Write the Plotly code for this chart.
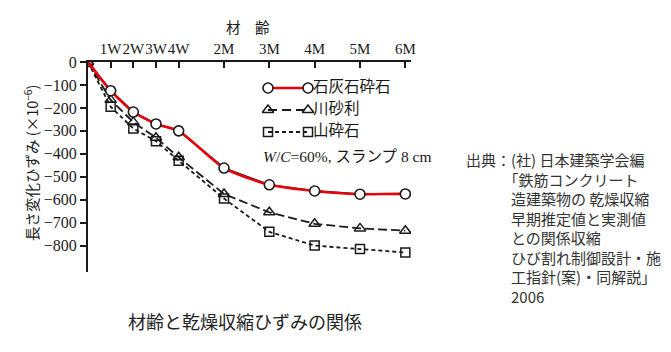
import plotly.graph_objects as go

# Ages: first month in weeks, then months (axis is stretched for the first month)
ages = ["0", "1W", "2W", "3W", "4W", "2M", "3M", "4M", "5M", "6M"]
tick_labels = ["1W", "2W", "3W", "4W", "2M", "3M", "4M", "5M", "6M"]

# Drying shrinkage strain (x10^-6) by coarse aggregate type
limestone = [0, -125, -218, -270, -300, -462, -535, -562, -576, -575]
river_gravel = [0, -165, -262, -330, -415, -575, -655, -705, -725, -735]
crushed_stone = [0, -195, -290, -345, -430, -595, -740, -800, -815, -830]

series_names = ["石灰石砕石", "川砂利", "山砕石"]
y_ticks = [0, -100, -200, -300, -400, -500, -600, -700, -800]


def axis_pos(label):
    """Weeks take one unit each; each month after the first takes two."""
    if label == "0":
        return 0.0
    n = int(label[:-1])
    if label.endswith("W"):
        return float(n)
    return 4.0 + 2.0 * (n - 1)


xs = [axis_pos(a) for a in ages]
serif = "Liberation Serif, Noto Sans CJK JP, serif"
jp = "Noto Sans CJK JP, sans-serif"
ink = "#1a1a1a"

L, T, R, B = 88, 62, 260, 80
W, H = 671, 352


def px(x):
    return (x - L) / (W - L - R)


def py(y):
    return (H - B - y) / (H - T - B)


fig = go.Figure()

fig.add_trace(go.Scatter(
    x=xs, y=crushed_stone, mode="lines+markers", name=series_names[2],
    line=dict(color=ink, width=1.8, dash="4px,3px"),
    marker=dict(symbol="square-open", size=9, color=ink, line=dict(width=1.5)),
))
fig.add_trace(go.Scatter(
    x=xs, y=river_gravel, mode="lines+markers", name=series_names[1],
    line=dict(color=ink, width=1.8, dash="9px,4px"),
    marker=dict(symbol="triangle-up-open", size=10, color=ink, line=dict(width=1.5)),
))
fig.add_trace(go.Scatter(
    x=xs, y=limestone, mode="lines", name=series_names[0],
    line=dict(color=ink, width=1.8),
))
# smoothed red trend over the limestone series
fig.add_trace(go.Scatter(
    x=xs + [xs[-1] + 0.4], y=limestone + [limestone[-1] - 6], mode="lines",
    line=dict(color="#e8000b", width=2.6, shape="spline", smoothing=0.6),
    showlegend=False, hoverinfo="skip",
))
fig.add_trace(go.Scatter(
    x=xs[1:], y=limestone[1:], mode="markers",
    marker=dict(symbol="circle", size=10, color="white", line=dict(color=ink, width=1.6)),
    showlegend=False,
))

# Hand-drawn style key, on an overlay axis measured in page pixels
kx0, kx1 = 268, 308
rows = [88, 110, 132]
key_styles = [
    dict(line=dict(color="#e8000b", width=2.4),
         marker=dict(symbol="circle", size=10, color="white", line=dict(color=ink, width=1.6))),
    dict(line=dict(color=ink, width=1.8, dash="9px,5px"),
         marker=dict(symbol="triangle-up-open", size=10, color=ink, line=dict(width=1.5))),
    dict(line=dict(color=ink, width=1.8, dash="4px,3px"),
         marker=dict(symbol="square-open", size=9, color=ink, line=dict(width=1.5))),
]
for yy, style, name in zip(rows, key_styles, series_names):
    fig.add_trace(go.Scatter(
        x=[kx0, kx1], y=[yy, yy], mode="lines+markers", xaxis="x2", yaxis="y2",
        showlegend=False, hoverinfo="skip", cliponaxis=False, **style,
    ))
    fig.add_trace(go.Scatter(
        x=[kx1 + 5], y=[yy], mode="text", xaxis="x2", yaxis="y2",
        text=[name], textposition="middle right",
        textfont=dict(family=jp, size=15.5, color=ink),
        showlegend=False, hoverinfo="skip", cliponaxis=False,
    ))
fig.add_annotation(x=px(261), y=py(156), xref="paper", yref="paper",
                   text="<i>W</i>/<i>C</i>=60%, スランプ 8 cm",
                   showarrow=False, xanchor="left", yanchor="middle",
                   font=dict(family=serif, size=15.5, color=ink))

# Axis titles
fig.add_annotation(x=px(248), y=py(14), xref="paper", yref="paper", text="材　齢",
                   showarrow=False, font=dict(family=jp, size=14.5, color=ink))
fig.add_annotation(x=px(18), y=py(163), xref="paper", yref="paper",
                   text="長さ変化ひずみ (×10<sup>−6</sup>)", textangle=-90,
                   showarrow=False, font=dict(family=jp, size=14.5, color=ink))

# Source note on the right; continuation lines indented past "出典："
source_head = "出典：(社) 日本建築学会編"
source_lines = [
    "「鉄筋コンクリート",
    "造建築物の 乾燥収縮",
    "早期推定値と実測値",
    "との関係収縮",
    "ひび割れ制御設計・施",
    "工指針(案)・同解説」",
    "2006",
]
indent = "\u3000\u3000\u3000"
note = "<br>".join([source_head] + [indent + s for s in source_lines])
fig.add_annotation(x=px(464), y=py(147), xref="paper", yref="paper",
                   text=note, align="left",
                   showarrow=False, xanchor="left", yanchor="top",
                   font=dict(family=jp, size=15, color="#333333"))

# Caption
fig.add_annotation(x=px(245), y=py(336), xref="paper", yref="paper",
                   text="材齢と乾燥収縮ひずみの関係",
                   showarrow=False, font=dict(family=jp, size=18, color="#222222"))

fig.update_layout(
    width=W, height=H,
    margin=dict(l=L, r=R, t=T, b=B, pad=0),
    paper_bgcolor="white", plot_bgcolor="white",
    showlegend=False,
    xaxis=dict(
        side="top", range=[0, 14.25], tickvals=[axis_pos(t) for t in tick_labels],
        ticktext=tick_labels, tickangle=0, ticks="inside", ticklen=6, tickwidth=1.8,
        tickcolor=ink, showline=True, linecolor=ink, linewidth=2.2, showgrid=False,
        zeroline=False, tickfont=dict(family=serif, size=15, color=ink),
    ),
    yaxis=dict(
        range=[-915, 0], tickvals=y_ticks,
        ticktext=[str(v).replace("-", "−") for v in y_ticks],
        ticks="outside", ticklen=6, tickwidth=1.8, tickcolor=ink,
        showline=True, linecolor=ink, linewidth=2.2, showgrid=False, zeroline=False,
        tickfont=dict(family=serif, size=16, color=ink),
    ),
    xaxis2=dict(overlaying="x", range=[L, W - R], visible=False, fixedrange=True),
    yaxis2=dict(overlaying="y", range=[H - B, T], visible=False, fixedrange=True),
)

fig.write_html("out.html")
